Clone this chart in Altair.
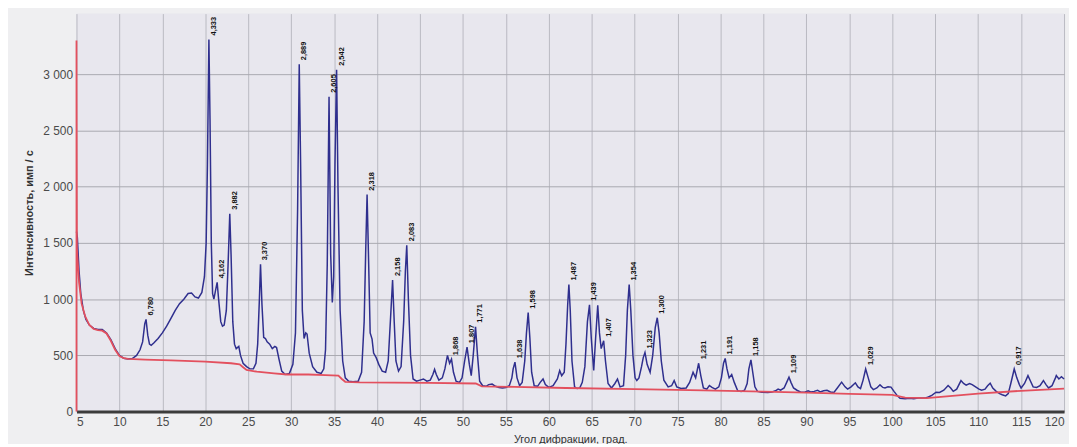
import altair as alt
import pandas as pd

# Diffraction pattern (blue)
blue_x = [5.0, 5.1, 5.3, 5.5, 5.8, 6.1, 6.5, 7.0, 7.5, 8.0, 8.5, 9.0, 9.5, 10.0, 10.5, 11.0, 11.5, 12.0, 12.4, 12.7,
          12.95, 13.1, 13.3, 13.5, 13.7, 14.0, 14.5, 15.0, 15.5, 16.0, 16.5, 17.0, 17.5, 18.0, 18.4, 18.8, 19.2, 19.6,
          19.9, 20.1, 20.25, 20.42, 20.55, 20.7, 20.85, 21.0, 21.2, 21.38, 21.55, 21.8, 22.0, 22.2, 22.45, 22.65, 22.85,
          23.0, 23.2, 23.4, 23.6, 23.9, 24.1, 24.4, 24.8, 25.2, 25.6, 25.9, 26.1, 26.3, 26.43, 26.6, 26.8, 27.0, 27.2,
          27.5, 27.8, 28.1, 28.3, 28.6, 28.9, 29.3, 29.8, 30.2, 30.5, 30.75, 30.94, 31.1, 31.3, 31.5, 31.7, 31.85, 32.1,
          32.5, 33.0, 33.5, 33.8, 34.0, 34.2, 34.41, 34.6, 34.79, 34.95, 35.1, 35.29, 35.45, 35.7, 36.0, 36.3, 36.7,
          37.2, 37.8, 38.2, 38.5, 38.7, 38.84, 39.0, 39.2, 39.42, 39.6, 39.9, 40.2, 40.6, 41.0, 41.3, 41.55, 41.81, 42.0,
          42.2, 42.5, 42.8, 43.1, 43.3, 43.46, 43.65, 43.9, 44.2, 44.6, 45.0, 45.4, 45.8, 46.2, 46.5, 46.7, 46.9, 47.2,
          47.6, 47.9, 48.2, 48.45, 48.67, 48.9, 49.2, 49.6, 49.9, 50.2, 50.48, 50.75, 50.97, 51.2, 51.47, 51.7, 51.95,
          52.3, 52.7, 53.0, 53.4, 53.8, 54.2, 54.6, 55.0, 55.4, 55.7, 55.85, 56.06, 56.3, 56.6, 56.9, 57.2, 57.4, 57.6,
          57.8, 58.0, 58.3, 58.7, 59.0, 59.33, 59.6, 60.0, 60.5, 61.0, 61.27, 61.5, 61.8, 62.0, 62.2, 62.34, 62.5, 62.7,
          63.0, 63.3, 63.6, 63.9, 64.2, 64.5, 64.74, 64.95, 65.23, 65.45, 65.7, 65.9, 66.1, 66.39, 66.6, 66.9, 67.3,
          67.7, 68.0, 68.3, 68.7, 68.95, 69.15, 69.36, 69.55, 69.8, 70.05, 70.25, 70.5, 70.8, 71.0, 71.2, 71.45, 71.8,
          72.1, 72.4, 72.63, 72.85, 73.1, 73.4, 73.9, 74.3, 74.6, 74.9, 75.4, 76.0, 76.4, 76.8, 77.1, 77.45, 77.7, 78.0,
          78.4, 78.7, 79.0, 79.4, 79.8, 80.1, 80.35, 80.54, 80.75, 81.0, 81.3, 81.6, 82.0, 82.4, 82.8, 83.1, 83.3, 83.54,
          83.75, 84.0, 84.3, 84.8, 85.5, 86.0, 86.4, 86.7, 87.0, 87.4, 87.7, 87.97, 88.2, 88.5, 88.9, 89.3, 89.8, 90.2,
          90.5, 90.9, 91.3, 91.6, 92.0, 92.4, 92.8, 93.2, 93.6, 94.1, 94.5, 94.8, 95.2, 95.7, 96.0, 96.3, 96.6, 96.9,
          97.2, 97.5, 97.8, 98.2, 98.57, 98.9, 99.15, 99.5, 99.85, 100.2, 100.6, 100.9, 101.5, 102.0, 102.5, 103.0,
          103.5, 103.8, 104.2, 104.6, 105.1, 105.5, 106.0, 106.5, 106.8, 107.1, 107.5, 108.0, 108.3, 108.6, 109.0,
          109.3, 109.7, 110.1, 110.4, 110.8, 111.1, 111.4, 111.7, 112.1, 112.5, 112.8, 113.2, 113.5, 113.8, 114.2,
          114.5, 114.8, 115.0, 115.4, 115.8, 116.1, 116.4, 116.8, 117.2, 117.6, 117.9, 118.2, 118.6, 119.0, 119.1,
          119.4, 119.7, 120.0]
blue_y = [1600, 1550, 1250, 1050, 900, 820, 770, 740, 730, 730, 700, 640, 560, 500, 475, 468, 472, 500, 550, 620,
          780, 820, 680, 600, 590, 610, 650, 700, 760, 830, 900, 960, 1000, 1050, 1055, 1020, 1010, 1060,
          1200, 1500, 2200, 3310, 2600, 1500, 1050, 1000, 1080, 1150, 1000, 800, 760, 770, 900, 1300, 1760,
          1400, 800, 600, 560, 580, 500, 430, 400, 380, 380, 430, 600, 1000, 1310, 950, 660, 650, 620,
          600, 560, 580, 570, 460, 360, 330, 340, 420, 700, 1800, 3090, 2200, 900, 650, 700, 690, 520,
          400, 350, 340, 380, 550, 1300, 2800, 1400, 970, 1200, 2200, 3040, 2000, 900, 450, 300, 270,
          265, 270, 350, 800, 1500, 1930, 1400, 700, 645, 520, 480, 420, 360, 350, 450, 800, 1170, 800,
          450, 360, 400, 800, 1250, 1480, 1000, 500, 290, 270, 280, 290, 270, 280, 330, 375, 330, 280,
          300, 380, 500, 430, 467, 350, 270, 260, 300, 450, 573, 420, 320, 500, 755, 500, 270,
          230, 225, 240, 245, 225, 215, 210, 215, 230, 300, 380, 440, 300, 230, 260, 450, 700, 880,
          650, 350, 230, 225, 260, 290, 240, 215, 230, 290, 365, 320, 350, 600, 950, 1130, 900, 450,
          220, 205, 210, 260, 400, 800, 950, 650, 365, 650, 945, 700, 560, 630, 450, 250, 210,
          250, 290, 220, 230, 500, 900, 1130, 900, 500, 300, 276, 300, 400, 480, 525, 420, 350,
          500, 750, 835, 700, 450, 280, 220, 230, 276, 220, 205, 210, 260, 350, 300, 430, 320, 210,
          200, 232, 215, 200, 220, 300, 430, 473, 380, 300, 330, 260, 185, 180, 190, 250, 380, 460,
          350, 220, 180, 172, 170, 175, 185, 200, 190, 210, 260, 306, 260, 210, 190, 175, 172, 185,
          175, 180, 190, 175, 185, 190, 175, 170, 210, 262, 220, 200, 220, 256, 220, 205, 280, 379,
          300, 220, 195, 210, 238, 215, 210, 220, 218, 180, 140, 118, 115, 118, 115, 120,
          122, 120, 130, 145, 173, 170, 190, 232, 210, 180, 200, 276, 250, 235, 250,
          240, 220, 200, 190, 200, 230, 253, 210, 180, 160, 150, 140, 160, 250, 379,
          300, 240, 210, 250, 320, 270, 220, 215, 230, 276, 240, 210, 230, 300, 320,
          290, 310, 290]

# Background curve (red)
red_x = [5.0, 5.0, 5.05, 5.3, 5.6, 6.0, 6.5, 7.0, 7.5, 8.0, 8.5, 9.0, 9.5, 10.0, 10.5, 11.0, 13.0, 16.0, 20.0,
         23.0, 24.0, 24.4, 24.8, 26.0, 28.0, 29.5, 32.0, 34.0, 35.5, 35.9, 36.3, 38.0, 42.0, 46.0, 51.5, 52.2,
         56.0, 62.0, 70.0, 78.0, 85.0, 90.0, 95.0, 100.0, 101.5, 104.0, 107.0, 110.0, 115.0, 120.0]
red_y = [0, 3300, 1450, 1150, 960, 850, 770, 735, 725, 720, 695, 630, 550, 495, 475, 468, 462, 455, 445,
         430, 420, 395, 370, 355, 340, 330, 330, 325, 320, 290, 265, 260, 258, 255, 250, 225,
         220, 210, 200, 188, 178, 168, 158, 148, 125, 120, 140, 160, 185, 205]

# Peak annotations (d-spacing)
peak_x = [13.1, 20.42, 21.38, 22.85, 26.43, 30.94, 34.41, 35.29, 38.84, 41.81, 43.46, 48.67, 50.48, 51.47,
          56.06, 57.6, 62.34, 64.74, 66.39, 69.36, 71.2, 72.63, 77.45, 80.54, 83.54, 87.97, 96.9, 114.2]
peak_y = [820, 3310, 1150, 1760, 1310, 3090, 2800, 3040, 1930, 1170, 1480, 467, 573, 755,
          440, 880, 1130, 950, 630, 1130, 525, 835, 430, 473, 460, 306, 379, 379]
peak_lbl = ["6,780", "4,333", "4,162", "3,882", "3,370", "2,889", "2,605", "2,542", "2,318", "2,158", "2,083",
            "1,868", "1,807", "1,771", "1,638", "1,598", "1,487", "1,439", "1,407", "1,354", "1,323", "1,300",
            "1,231", "1,191", "1,158", "1,109", "1,029", "0,917"]

df_b = pd.DataFrame({"x": blue_x, "y": blue_y, "i": list(range(len(blue_x)))})
df_r = pd.DataFrame({"x": red_x, "y": red_y, "i": list(range(len(red_x)))})
df_p = pd.DataFrame({"x": peak_x, "y": peak_y, "t": peak_lbl})

FONT = "Liberation Sans"
xscale = alt.Scale(domain=[5, 120], nice=False, zero=False)
yscale = alt.Scale(domain=[0, 3540], nice=False)

xaxis = alt.Axis(values=list(range(5, 121, 5)), title="Угол дифракции,  град.", grid=True,
                 gridColor="#b9b9c2", gridWidth=1, domainColor="#3c3c3c", domainWidth=3, ticks=False,
                 labelFont=FONT, labelFontSize=12, labelColor="#4a4a4a", labelPadding=5,
                 titleFont=FONT, titleFontSize=11, titleFontWeight="normal", titleColor="#333333",
                 titlePadding=6)
yaxis = alt.Axis(values=list(range(0, 3001, 500)), title="Интенсивность,  имп / с", grid=True,
                 gridColor="#a9a9b0", gridWidth=1, domain=False, ticks=False,
                 labelExpr="replace(format(datum.value, ','), ',', ' ')",
                 labelFont=FONT, labelFontSize=12, labelColor="#4a4a4a", labelPadding=4,
                 titleFont=FONT, titleFontSize=11, titleFontWeight="bold", titleColor="#333333",
                 titlePadding=8)

blue = alt.Chart(df_b).mark_line(color="#2f2f8e", strokeWidth=1.5).encode(
    x=alt.X("x:Q", scale=xscale, axis=xaxis),
    y=alt.Y("y:Q", scale=yscale, axis=yaxis),
    order="i:Q",
)
red = alt.Chart(df_r).mark_line(color="#e3505e", strokeWidth=1.8).encode(
    x=alt.X("x:Q", scale=xscale),
    y=alt.Y("y:Q", scale=yscale),
    order="i:Q",
)
labels = alt.Chart(df_p).mark_text(angle=270, align="left", baseline="middle", dx=4, dy=5,
                                   fontSize=7.5, fontWeight="bold", font=FONT, color="#111111").encode(
    x=alt.X("x:Q", scale=xscale),
    y=alt.Y("y:Q", scale=yscale),
    text="t:N",
)

chart = alt.layer(blue, red, labels).properties(
    width=995, height=401,
    autosize=alt.AutoSizeParams(type="none"),
    padding={"left": 69, "top": 4, "right": 5, "bottom": 31},
    background="#efeff1",
).configure_view(fill="#e8e7ee", stroke=None)

chart.save("out.html", embed_options={"renderer": "svg", "actions": False})
